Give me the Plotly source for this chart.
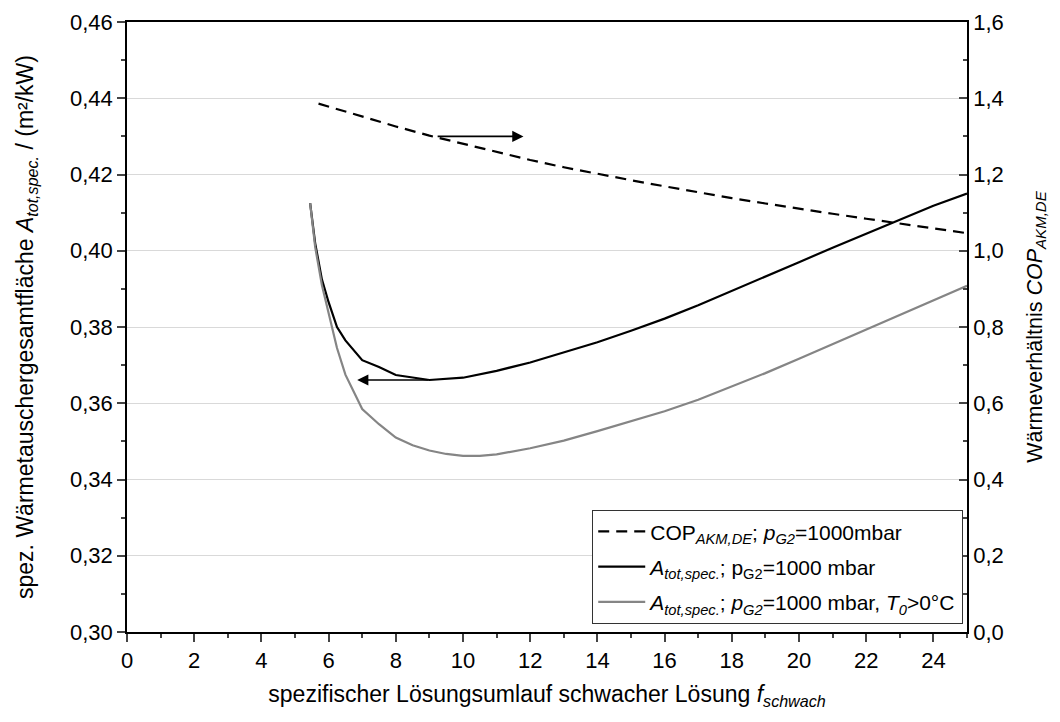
import plotly.graph_objects as go

# Data
f_black = [5.45, 5.6, 5.8, 6.0, 6.25, 6.5, 7.0, 7.5, 8.0, 9.0, 10.0, 11.0, 12.0, 13.0,
           14.0, 15.0, 16.0, 17.0, 18.0, 19.0, 20.0, 21.0, 22.0, 23.0, 24.0, 25.0]
a_black = [0.4125, 0.402, 0.3925, 0.3865, 0.380, 0.3765, 0.3713, 0.3695, 0.3674, 0.3661,
           0.3667, 0.3685, 0.3707, 0.3733, 0.3760, 0.3790, 0.3822, 0.3857, 0.3894, 0.3932,
           0.3970, 0.4008, 0.4045, 0.4083, 0.4118, 0.4150]

f_grey = [5.45, 5.6, 5.8, 6.0, 6.25, 6.5, 7.0, 7.5, 8.0, 8.5, 9.0, 9.5, 10.0, 10.5, 11.0, 12.0,
          13.0, 14.0, 15.0, 16.0, 17.0, 18.0, 19.0, 20.0, 21.0, 22.0, 23.0, 24.0, 25.0]
a_grey = [0.4125, 0.401, 0.391, 0.3835, 0.3745, 0.3675, 0.3585, 0.3545, 0.351, 0.349,
          0.3476, 0.3467, 0.3462, 0.3462, 0.3466, 0.3482, 0.3502, 0.3527, 0.3552, 0.3579,
          0.3609, 0.3643, 0.3679, 0.3717, 0.3755, 0.3794, 0.3833, 0.3871, 0.3908]

f_cop = [5.7, 6.0, 7.0, 8.0, 9.0, 10.0, 11.0, 12.0, 13.0, 14.0, 15.0, 16.0, 17.0, 18.0,
         19.0, 20.0, 21.0, 22.0, 23.0, 24.0, 25.0]
cop = [1.386, 1.378, 1.351, 1.326, 1.302, 1.280, 1.259, 1.238, 1.219, 1.201, 1.185,
       1.169, 1.153, 1.138, 1.124, 1.110, 1.097, 1.084, 1.071, 1.058, 1.046]

x_ticks = list(range(0, 25, 2))

FONT = "Liberation Sans, Arial, sans-serif"
TICK = 22
TITLE = 23

fig = go.Figure()
fig.add_trace(go.Scatter(
    x=f_cop, y=cop, yaxis="y2", mode="lines", legendgroup="a",
    line=dict(color="black", width=2.2, dash="11px,7px"),
    name="COP<sub><i>AKM,DE</i></sub>; <i>p</i><sub><i>G2</i></sub>=1000mbar"))
fig.add_trace(go.Scatter(
    x=f_black, y=a_black, mode="lines", legendgroup="b",
    line=dict(color="black", width=2.2),
    name="<i>A</i><sub><i>tot,spec.</i></sub>; p<sub>G2</sub>=1000 mbar"))
fig.add_trace(go.Scatter(
    x=f_grey, y=a_grey, mode="lines", legendgroup="c",
    line=dict(color="#858585", width=2.2),
    name="<i>A</i><sub><i>tot,spec.</i></sub>; <i>p</i><sub><i>G2</i></sub>=1000 mbar, <i>T</i><sub><i>0</i></sub>>0°C"))

# arrows
fig.add_annotation(x=11.8, y=1.30, xref="x", yref="y2", ax=9.2, ay=1.30,
                   axref="x", ayref="y2", showarrow=True, arrowhead=2, arrowsize=1.4,
                   arrowwidth=1.6, arrowcolor="black", text="")
fig.add_annotation(x=6.85, y=0.3661, xref="x", yref="y", ax=9.0, ay=0.3661,
                   axref="x", ayref="y", showarrow=True, arrowhead=2, arrowsize=1.4,
                   arrowwidth=1.6, arrowcolor="black", text="")

fig.update_layout(
    width=1052, height=714,
    margin=dict(l=119, r=93, t=14, b=90),
    paper_bgcolor="white", plot_bgcolor="white",
    separators=",.",
    font=dict(family=FONT, size=TICK, color="black"),
    showlegend=True,
    legend=dict(x=0.5536, y=0.2, xanchor="left", yanchor="top",
                bordercolor="#333333", borderwidth=1.2, bgcolor="white",
                font=dict(family=FONT, size=21), tracegroupgap=5, itemwidth=47),
    xaxis=dict(range=[0, 25], tickvals=x_ticks, ticks="outside", ticklen=8, tickwidth=1.5,
               showline=True, linecolor="black", linewidth=1.5, mirror=True,
               showgrid=False, zeroline=False, automargin=False,
               minor=dict(dtick=1, ticks="outside", ticklen=4, tickwidth=1.5, showgrid=False),
               title=dict(text="spezifischer Lösungsumlauf schwacher Lösung <i>f</i><sub><i>schwach</i></sub>",
                          font=dict(size=TITLE), standoff=14),
               tickfont=dict(size=TICK)),
    yaxis=dict(range=[0.30, 0.46], dtick=0.02, tickformat=".2f", ticks="outside", ticklen=8,
               tickwidth=1.5, showline=True, linecolor="black", linewidth=1.5,
               showgrid=True, gridcolor="#d9d9d9", gridwidth=1.2, zeroline=False,
               automargin=False,
               minor=dict(dtick=0.01, ticks="outside", ticklen=4, tickwidth=1.5, showgrid=False),
               title=dict(text="spez. Wärmetauschergesamtfläche <i>A</i><sub><i>tot,spec.</i></sub> / (m²/kW)",
                          font=dict(size=TITLE), standoff=30),
               tickfont=dict(size=TICK)),
    yaxis2=dict(range=[0.0, 1.6], dtick=0.2, tickformat=".1f", overlaying="y", side="right",
                ticks="inside", ticklen=8, tickwidth=1.5, showline=True, linecolor="black",
                linewidth=1.5, showgrid=False, zeroline=False, automargin=False,
                minor=dict(dtick=0.1, ticks="inside", ticklen=4, tickwidth=1.5, showgrid=False),
                title=dict(text="Wärmeverhältnis <i>COP</i><sub><i>AKM,DE</i></sub>",
                           font=dict(size=21.5), standoff=24),
                tickfont=dict(size=TICK)),
)

fig.write_html("out.html")
